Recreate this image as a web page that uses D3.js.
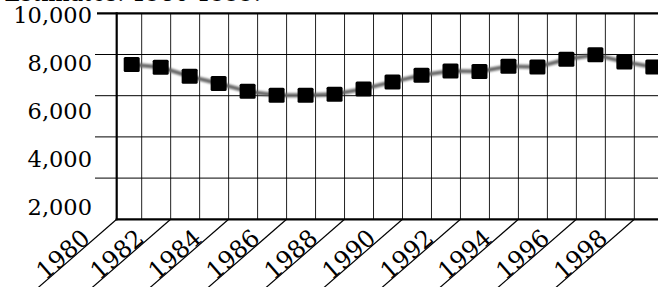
<!DOCTYPE html>
<html lang="en">
<head>
  <meta charset="UTF-8">
  <title>Estimates: 1980-1999</title>
  <script src="https://d3js.org/d3.v7.min.js"></script>
  <style>
    body {
      margin: 0;
      padding: 0;
      background: #ffffff;
      overflow: hidden;
    }
    svg {
      display: block;
      font-family: 'DejaVu Serif', serif;
    }
  </style>
</head>
<body>
  <svg id="chart" width="658" height="287"></svg>
<script>
  // data
  const years = [1980, 1981, 1982, 1983, 1984, 1985, 1986, 1987, 1988, 1989,
                 1990, 1991, 1992, 1993, 1994, 1995, 1996, 1997, 1998];
  const values = [7520, 7380, 6940, 6590, 6210, 6020, 6020, 6070, 6330, 6670,
                  6990, 7200, 7180, 7430, 7390, 7770, 7990, 7640, 7390];
  const yTickValues = [10000, 8000, 6000, 4000, 2000];
  const yTickLabels = ["10,000", "8,000", "6,000", "4,000", "2,000"];
  const xTickYears = [1980, 1982, 1984, 1986, 1988, 1990, 1992, 1994, 1996, 1998];
  const gridYears = d3.range(1981, 2000);
  const title = "Population Estimates: 1980-1999.";

  const svg = d3.select("#chart");

  const plotLeft = 116.7, plotTop = 13.3, plotBottom = 219.3, plotRight = 700;
  const fontSize = "22.5px";

  const x = d3.scaleLinear().domain([1980, 2000]).range([112.7, 692.3]);
  const y = d3.scaleLinear().domain([0, 10000]).range([plotBottom, plotTop]);
  // the tick labels sit on their own even spacing, not on the grid lines
  const yLab = d3.scalePoint().domain(yTickLabels).range([15, 207]);

  // title, mostly cut off by the top edge
  svg.append("text")
    .attr("x", 261)
    .attr("y", 1)
    .attr("text-anchor", "end")
    .style("font-size", fontSize)
    .text(title);

  // vertical grid
  svg.append("g")
    .selectAll("line")
    .data(gridYears)
    .join("line")
    .attr("x1", d => x(d)).attr("x2", d => x(d))
    .attr("y1", plotTop).attr("y2", plotBottom)
    .attr("stroke", "#222")
    .attr("stroke-width", 1);

  // horizontal grid (with short ticks left of the axis)
  svg.append("g")
    .selectAll("line")
    .data(yTickValues)
    .join("line")
    .attr("x1", d => d === 10000 ? 97 : 95)
    .attr("x2", plotRight)
    .attr("y1", d => y(d)).attr("y2", d => y(d))
    .attr("stroke", "#000")
    .attr("stroke-width", d => d === 10000 ? 2.2 : 1);

  // axes
  svg.append("line")
    .attr("x1", plotLeft).attr("x2", plotLeft)
    .attr("y1", plotTop - 1).attr("y2", plotBottom + 1)
    .attr("stroke", "#000").attr("stroke-width", 2.2);
  svg.append("line")
    .attr("x1", plotLeft - 1).attr("x2", plotRight)
    .attr("y1", plotBottom).attr("y2", plotBottom)
    .attr("stroke", "#000").attr("stroke-width", 2.2);

  // y labels
  svg.append("g")
    .selectAll("text")
    .data(yTickLabels)
    .join("text")
    .attr("x", 92)
    .attr("y", d => yLab(d))
    .attr("dy", "0.35em")
    .attr("text-anchor", "end")
    .style("font-size", fontSize)
    .text(d => d);

  // x labels: slanted underline from the axis, text sitting on it
  const ang = 41;
  const rad = ang * Math.PI / 180;
  const xt = svg.append("g")
    .selectAll("g")
    .data(xTickYears)
    .join("g")
    .attr("transform", d => `translate(${Math.max(x(d), plotLeft)},${plotBottom})`);

  xt.append("line")
    .attr("x1", 0).attr("y1", 0)
    .attr("x2", -130 * Math.cos(rad)).attr("y2", 130 * Math.sin(rad))
    .attr("stroke", "#000")
    .attr("stroke-width", 1.2);

  xt.append("text")
    .attr("transform", `translate(${-33 * Math.cos(rad)},${33 * Math.sin(rad)}) rotate(${-ang})`)
    .attr("y", -0.5)
    .attr("text-anchor", "end")
    .style("font-size", "24px")
    .text(d => d);

  // series
  const px = d => x(d) + 19;
  const pts = years.map((yr, i) => [px(yr), y(values[i])]);

  const defs = svg.append("defs");
  defs.append("filter").attr("id", "soft")
    .append("feGaussianBlur").attr("stdDeviation", 0.7);
  defs.append("filter").attr("id", "softer")
    .append("feGaussianBlur").attr("stdDeviation", 1.1);

  svg.append("path")
    .datum(pts)
    .attr("d", d3.line())
    .attr("fill", "none")
    .attr("stroke", "#666")
    .attr("stroke-width", 4)
    .attr("filter", "url(#softer)");

  svg.append("g")
    .selectAll("rect")
    .data(pts)
    .join("rect")
    .attr("x", d => d[0] - 8)
    .attr("y", d => d[1] - 7.5)
    .attr("width", 16)
    .attr("height", 15)
    .attr("rx", 1.5)
    .attr("fill", "#000")
    .attr("filter", "url(#soft)");
</script>
</body>
</html>
